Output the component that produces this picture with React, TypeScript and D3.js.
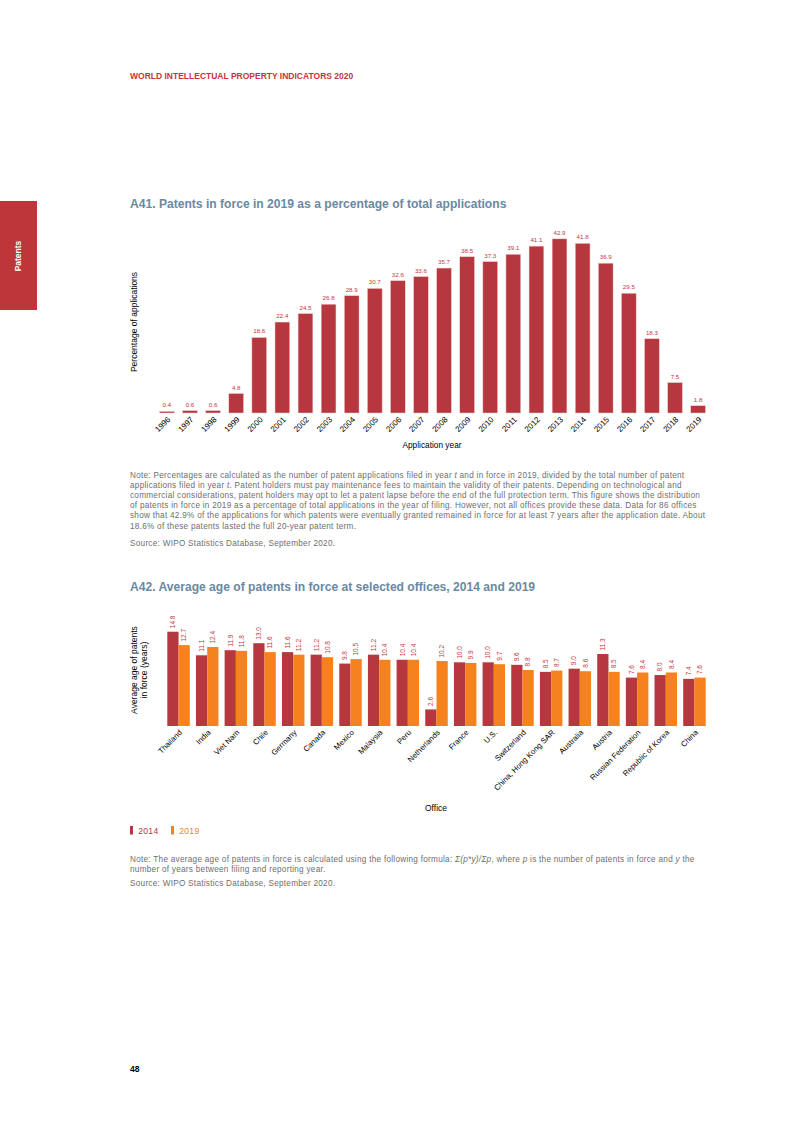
import { useEffect, useRef } from "react";
import * as d3 from "d3";

// A41 data
const years = [
  "1996", "1997", "1998", "1999", "2000", "2001", "2002", "2003",
  "2004", "2005", "2006", "2007", "2008", "2009", "2010", "2011",
  "2012", "2013", "2014", "2015", "2016", "2017", "2018", "2019",
];
const pctInForce = [
  0.4, 0.6, 0.6, 4.8, 18.6, 22.4, 24.5, 26.8, 28.9, 30.7, 32.6, 33.6,
  35.7, 38.5, 37.3, 39.1, 41.1, 42.9, 41.8, 36.9, 29.5, 18.3, 7.5, 1.8,
];

// A42 data
const offices = [
  "Thailand", "India", "Viet Nam", "Chile", "Germany", "Canada", "Mexico",
  "Malaysia", "Peru", "Netherlands", "France", "U.S.", "Switzerland",
  "China, Hong Kong SAR", "Australia", "Austria", "Russian Federation",
  "Republic of Korea", "China",
];
const age2014 = [14.8, 11.1, 11.9, 13.0, 11.6, 11.2, 9.8, 11.2, 10.4, 2.6, 10.0, 10.0, 9.6, 8.5, 9.0, 11.3, 7.6, 8.0, 7.4];
const age2019 = [12.7, 12.4, 11.8, 11.6, 11.2, 10.8, 10.5, 10.4, 10.4, 10.2, 9.9, 9.7, 8.8, 8.7, 8.6, 8.5, 8.4, 8.4, 7.6];
const seriesKeys = ["2014", "2019"];

type Seg = [string, boolean];

const noteA41: Seg[][] = [
  [["Note: Percentages are calculated as the number of patent applications filed in year ", false], ["t", true], [" and in force in 2019, divided by the total number of patent", false]],
  [["applications filed in year ", false], ["t", true], [". Patent holders must pay maintenance fees to maintain the validity of their patents. Depending on technological and", false]],
  [["commercial considerations, patent holders may opt to let a patent lapse before the end of the full protection term. This figure shows the distribution", false]],
  [["of patents in force in 2019 as a percentage of total applications in the year of filing. However, not all offices provide these data. Data for 86 offices", false]],
  [["show that 42.9% of the applications for which patents were eventually granted remained in force for at least 7 years after the application date. About", false]],
  [["18.6% of these patents lasted the full 20-year patent term.", false]],
];
const noteA42: Seg[][] = [
  [["Note: The average age of patents in force is calculated using the following formula: ", false], ["\u03A3(p*y)/\u03A3p", true], [", where ", false], ["p", true], [" is the number of patents in force and ", false], ["y", true], [" the", false]],
  [["number of years between filing and reporting year.", false]],
];
const sourceText = "Source: WIPO Statistics Database, September 2020.";

const FONT = "'Liberation Sans', Arial, Helvetica, sans-serif";
const RED = "#b6383e";
const ORANGE = "#f5821f";
const LABEL_RED = "#c7343c";
const TITLE = "#6a89a2";
const NOTE = "#6e6e6e";
const NOTE_SIZE = 8.2;
const NOTE_SPACING = 0.27;

export default function App() {
  const svgRef = useRef<SVGSVGElement>(null);

  useEffect(() => {
    if (!svgRef.current) return;
    const svg = d3.select(svgRef.current);
    svg.selectAll("*").remove();
    svg.attr("font-family", FONT);

    svg.append("rect").attr("width", 793).attr("height", 1122).attr("fill", "#fff");

    // header
    svg.append("text")
      .attr("x", 130).attr("y", 79)
      .attr("font-size", 8.5).attr("font-weight", "bold")
      .attr("fill", "#c8343a")
      .text("WORLD INTELLECTUAL PROPERTY INDICATORS 2020");

    // side tab
    svg.append("rect").attr("x", 0).attr("y", 201).attr("width", 37).attr("height", 109).attr("fill", "#bd3639");
    svg.append("text")
      .attr("transform", "translate(21,256) rotate(-90)")
      .attr("text-anchor", "middle")
      .attr("font-size", 8.5).attr("font-weight", "bold")
      .attr("fill", "#fff")
      .text("Patents");

    const drawNote = (lines: Seg[][], y0: number, step: number) => {
      lines.forEach((line, i) => {
        const t = svg.append("text")
          .attr("x", 130).attr("y", y0 + i * step)
          .attr("font-size", NOTE_SIZE)
          .attr("letter-spacing", NOTE_SPACING)
          .attr("fill", NOTE);
        line.forEach(([s, it]) => {
          t.append("tspan").attr("font-style", it ? "italic" : "normal").text(s);
        });
      });
    };
    const drawSource = (y: number) => {
      svg.append("text")
        .attr("x", 130).attr("y", y)
        .attr("font-size", NOTE_SIZE)
        .attr("letter-spacing", NOTE_SPACING)
        .attr("fill", NOTE)
        .text(sourceText);
    };

    // ---------- A41 ----------
    svg.append("text")
      .attr("x", 130).attr("y", 208)
      .attr("font-size", 12.1).attr("font-weight", "bold")
      .attr("fill", TITLE)
      .text("A41. Patents in force in 2019 as a percentage of total applications");

    const base1 = 413;
    const x1 = d3.scaleBand().domain(years).range([159.5, 705.5]).paddingInner(0.36).paddingOuter(0);
    const y1 = d3.scaleLinear().domain([0, 45]).range([base1, base1 - 45 * 4.06]);
    const data1 = years.map((year, i) => ({ year, value: pctInForce[i] }));

    const g1 = svg.append("g");
    g1.selectAll("rect")
      .data(data1)
      .join("rect")
      .attr("x", (d) => x1(d.year) || 0)
      .attr("y", (d) => y1(d.value))
      .attr("width", x1.bandwidth())
      .attr("height", (d) => base1 - y1(d.value))
      .attr("fill", RED)
      .attr("stroke", "#f3d3d3")
      .attr("stroke-width", 0.5);

    g1.selectAll("text.val")
      .data(data1)
      .join("text")
      .attr("class", "val")
      .attr("x", (d) => (x1(d.year) || 0) + x1.bandwidth() / 2)
      .attr("y", (d) => y1(d.value) - 4)
      .attr("text-anchor", "middle")
      .attr("font-size", 6.2)
      .attr("fill", LABEL_RED)
      .text((d) => d.value.toFixed(1));

    const ax1 = svg.append("g")
      .attr("transform", `translate(0,${base1})`)
      .call(d3.axisBottom(x1).tickSize(0));
    ax1.select(".domain").remove();
    ax1.attr("font-family", FONT).attr("font-size", 8);
    ax1.selectAll("text")
      .attr("y", 0)
      .attr("dy", null)
      .attr("fill", "#000")
      .attr("text-anchor", "end")
      .attr("transform", "translate(4,7) rotate(-45)");

    svg.append("text")
      .attr("x", 432).attr("y", 448)
      .attr("text-anchor", "middle")
      .attr("font-size", 8.3).attr("fill", "#000")
      .text("Application year");

    svg.append("text")
      .attr("transform", "translate(137,322) rotate(-90)")
      .attr("text-anchor", "middle")
      .attr("font-size", 8.5).attr("fill", "#000")
      .text("Percentage of applications");

    drawNote(noteA41, 478, 10.1);
    drawSource(546);

    // ---------- A42 ----------
    svg.append("text")
      .attr("x", 130).attr("y", 591)
      .attr("font-size", 12.1).attr("font-weight", "bold")
      .attr("fill", TITLE)
      .text("A42. Average age of patents in force at selected offices, 2014 and 2019");

    const base2 = 726;
    const x2 = d3.scaleBand().domain(offices).range([167.3, 705.7]).paddingInner(0.215).paddingOuter(0);
    const xs = d3.scaleBand().domain(seriesKeys).range([0, x2.bandwidth()]);
    const y2 = d3.scaleLinear().domain([0, 15]).range([base2, base2 - 15 * 6.37]);
    const color = d3.scaleOrdinal<string>().domain(seriesKeys).range([RED, ORANGE]);

    const data2 = offices.flatMap((office, i) => [
      { office, key: "2014", value: age2014[i] },
      { office, key: "2019", value: age2019[i] },
    ]);

    const g2 = svg.append("g");
    g2.selectAll("rect")
      .data(data2)
      .join("rect")
      .attr("x", (d) => (x2(d.office) || 0) + (xs(d.key) || 0))
      .attr("y", (d) => y2(d.value))
      .attr("width", xs.bandwidth())
      .attr("height", (d) => base2 - y2(d.value))
      .attr("fill", (d) => color(d.key));

    g2.selectAll("text.val")
      .data(data2)
      .join("text")
      .attr("class", "val")
      .attr("transform", (d) => {
        const cx = (x2(d.office) || 0) + (xs(d.key) || 0) + xs.bandwidth() / 2 + 2.3;
        return `translate(${cx},${y2(d.value) - 3.5}) rotate(-90)`;
      })
      .attr("font-size", 6.5)
      .attr("fill", LABEL_RED)
      .text((d) => d.value.toFixed(1));

    const ax2 = svg.append("g")
      .attr("transform", `translate(0,${base2})`)
      .call(d3.axisBottom(x2).tickSize(0));
    ax2.select(".domain").remove();
    ax2.attr("font-family", FONT).attr("font-size", 7.8);
    ax2.selectAll("text")
      .attr("y", 0)
      .attr("dy", null)
      .attr("fill", "#000")
      .attr("text-anchor", "end")
      .attr("transform", "translate(4,7) rotate(-45)");

    svg.append("text")
      .attr("x", 436).attr("y", 811)
      .attr("text-anchor", "middle")
      .attr("font-size", 8.5).attr("fill", "#000")
      .text("Office");

    const yl = svg.append("text")
      .attr("transform", "translate(137,670) rotate(-90)")
      .attr("text-anchor", "middle")
      .attr("font-size", 8.5).attr("fill", "#000");
    yl.append("tspan").attr("x", 0).attr("dy", 0).text("Average age of patents");
    yl.append("tspan").attr("x", 0).attr("dy", 9.5).text("in force (years)");

    // legend
    const lg = svg.append("g").attr("transform", "translate(130,826)");
    seriesKeys.forEach((k, i) => {
      const item = lg.append("g").attr("transform", `translate(${i * 41},0)`);
      item.append("rect").attr("width", 3).attr("height", 8.5).attr("fill", color(k));
      item.append("text")
        .attr("x", 8.3).attr("y", 7.8)
        .attr("font-size", 8.6).attr("letter-spacing", 0.25)
        .attr("fill", color(k))
        .text(k);
    });

    drawNote(noteA42, 862, 10.4);
    drawSource(885.5);

    // page number
    svg.append("text")
      .attr("x", 130).attr("y", 1072)
      .attr("font-size", 8.5).attr("font-weight", "bold")
      .attr("fill", "#000")
      .text("48");
  }, []);

  return (
    <svg
      ref={svgRef}
      width={793}
      height={1122}
      style={{ position: "absolute", left: 0, top: 0, display: "block" }}
    />
  );
}
